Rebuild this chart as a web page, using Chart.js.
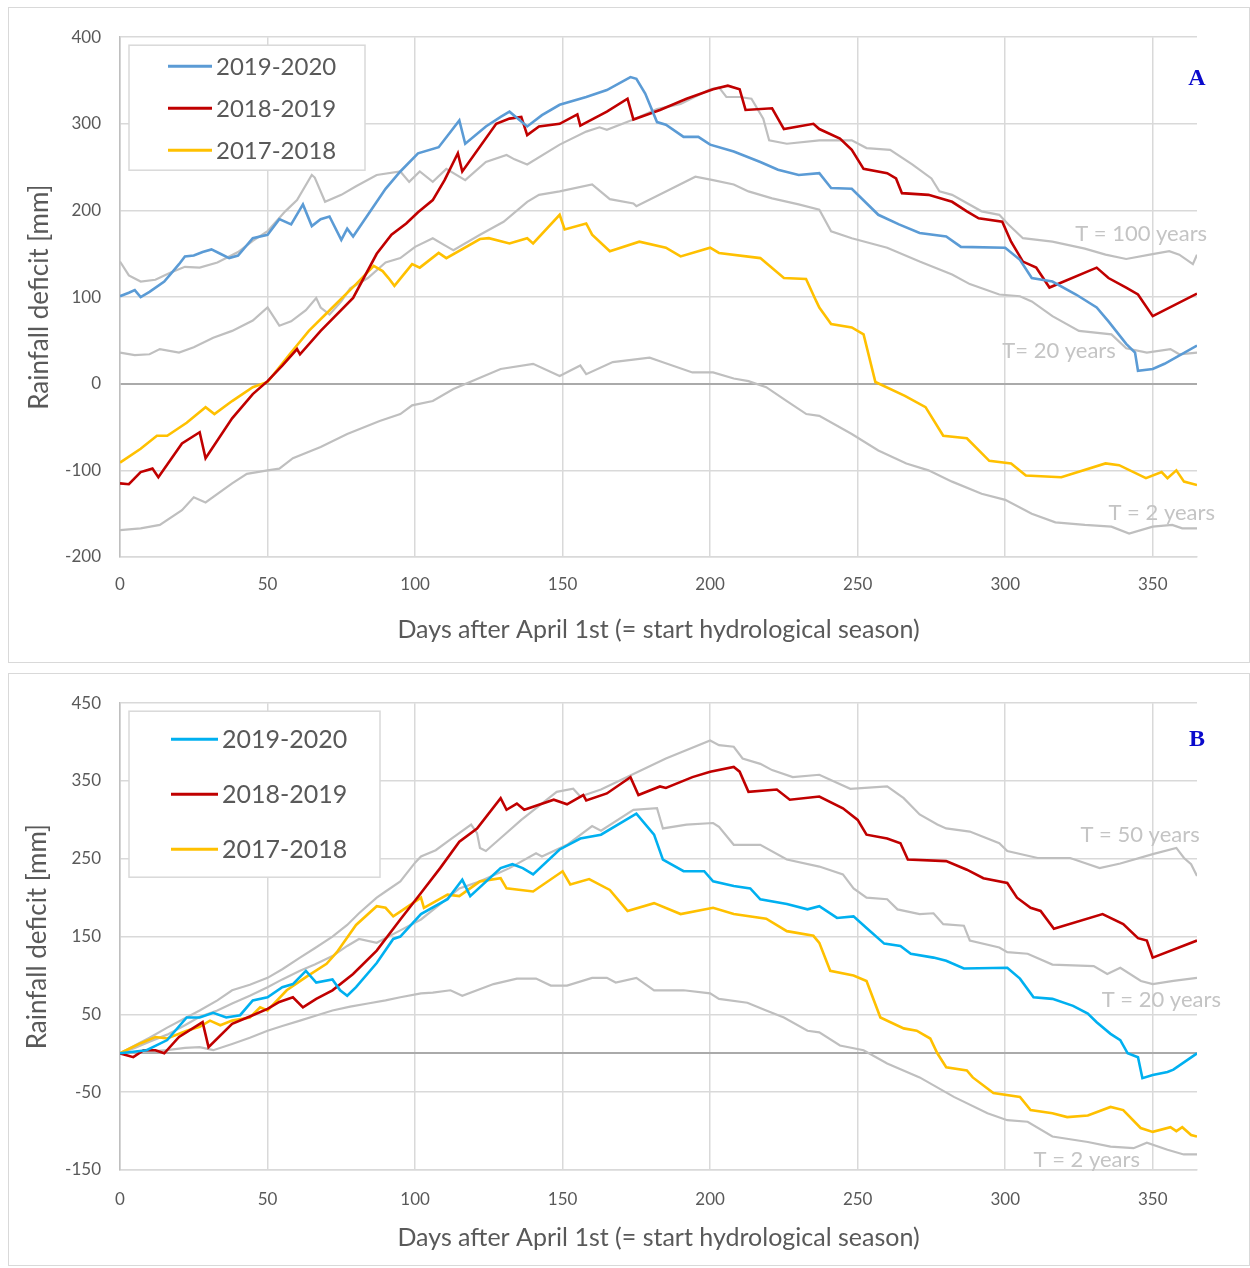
<!DOCTYPE html>
<html>
<head>
<meta charset="utf-8">
<script src="https://cdn.jsdelivr.net/npm/chart.js@4.4.1/dist/chart.umd.min.js"></script>
<style>
  html, body { margin: 0; padding: 0; background: #fff; }
  .panel { position: absolute; left: 8px; width: 1240px; border: 1px solid #d9d9d9; background: #fff; }
  #panelA { top: 7px; height: 654px; }
  #panelB { top: 673px; height: 591px; }
  canvas { display: block; }
</style>
</head>
<body>
<div class="panel" id="panelA"><canvas id="chartA"></canvas></div>
<div class="panel" id="panelB"><canvas id="chartB"></canvas></div>
<script>
// x ticks (days after April 1st) and y ticks for each panel
const dayTicks = [0, 50, 100, 150, 200, 250, 300, 350];
const aYTicks = [-200, -100, 0, 100, 200, 300, 400];
const bYTicks = [-150, -50, 0, 50, 150, 250, 350, 450];
const seasons = ['2019-2020', '2018-2019', '2017-2018'];

// Panel A: [day, rainfall deficit in mm]
const A_2019_2020 = [[0,101],[3,105],[5,108],[7,100],[10,106],[15,118],[20,138],[22,147],[25,148],[28,152],[31,155],[34,150],[37,145],[40,148],[45,168],[50,172],[54,190],[58,184],[62,207],[65,182],[68,190],[71,193],[75,166],[77,179],[79,170],[85,200],[90,225],[95,245],[101,266],[108,273],[115,304],[117,277],[124,297],[129,308],[132,314],[138,297],[143,310],[149,322],[158,331],[165,339],[173,354],[175,352],[178,335],[182,302],[185,299],[191,285],[196,285],[200,276],[208,268],[217,256],[223,247],[230,241],[237,243],[241,226],[248,225],[257,195],[264,184],[271,174],[280,170],[285,158],[300,157],[305,143],[309,122],[316,118],[324,103],[331,88],[335,72],[341,46],[344,36],[345,15],[350,17],[354,23],[365,44]];
const A_2018_2019 = [[0,-115],[3,-116],[7,-102],[11,-98],[13,-108],[21,-69],[27,-56],[29,-86],[38,-40],[45,-12],[50,3],[55,21],[60,40],[61,34],[68,61],[79,99],[87,150],[92,172],[97,185],[101,198],[106,212],[110,235],[114.5,266],[116,245],[127.5,300],[132,306],[136,308],[138,287],[142,297],[149,300],[155,311],[156,298],[165,314],[172,329],[174,305],[183,316],[192,329],[201,340],[206,344],[210,340],[212,316],[221,318],[225,294],[235,300],[237,294],[244,283],[248,270],[252,248],[260,243],[263,237],[265,220],[274,218],[282,210],[287,199],[291,191],[299,187],[302,164],[306,141],[310.5,134],[315,111],[331,134],[335,122],[341,111],[345,103],[350,78],[365,104]];
const A_2017_2018 = [[0,-91],[7,-75],[12.5,-60],[16,-60],[22.6,-45],[29,-27],[32,-35],[38,-20],[45,-4],[50,2],[57.5,34],[64,61],[72,88],[80,115],[86,136],[89,130],[91,122],[93,113],[99,138],[101.6,134],[108,151],[110.6,145],[122,167],[125,168],[132,162],[138,168],[140,162],[149,195],[150.7,178],[158,185],[160,172],[166,153],[176,164],[185,157],[190,147],[200,157],[203,151],[217,145],[225,122],[232.5,121],[236,95],[237,88],[241,69],[248,65],[252,57],[256,2],[266,-14],[273,-27],[279,-60],[287,-63],[294.6,-89],[302,-92],[307,-106],[319,-108],[334,-92],[338.6,-94],[347.7,-109],[353,-102],[355,-109],[358,-100],[360.6,-113],[365,-117]];
const A_T100 = [[0,141],[3,125],[7,118],[12,120],[17,128],[22,135],[27,134],[33,140],[40,152],[45,165],[50,176],[56,199],[60,212],[65,241],[66,238],[69.5,210],[75,218],[80,228],[87,241],[95,245],[98,233],[101.6,245],[106,233],[110.6,248],[117,235],[124,256],[131,264],[133.7,259],[138,253],[149,276],[158,291],[162.5,296],[165,293],[174,305],[182,317],[190,323],[200,340],[203,342],[205.5,331],[210,331],[214,329],[218,306],[220,281],[226,277],[237,281],[248,281],[253,272],[261,270],[268.6,253],[275,237],[277.7,222],[282,218],[292,199],[298,195],[301,184],[306,168],[316,164],[327,156],[334,149],[341,144],[349,149],[355.6,153],[359,149],[363.6,138],[365,149]];
const A_T20 = [[0,36],[5,33],[10,34],[13.5,40],[20,36],[25,42],[31.6,53],[38,61],[45,73],[50,88],[54,67],[58,72],[63,85],[66.5,99],[68,88],[71,80],[75,95],[78,110],[84,122],[90,140],[95,145],[100,158],[106,168],[112,156],[113,154],[122,172],[130,187],[138,210],[142,218],[149,222],[160,230],[166,213],[174,208],[175,205],[185,222],[195,239],[201,235],[208,230],[213,222],[221,214],[230,207],[237,201],[241,176],[248,168],[260,157],[271,141],[282,126],[288,115],[298,103],[305,101],[309,95],[316,78],[325,61],[336,57],[341,41],[348,36],[356,40],[359,34],[365,36]];
const A_T2 = [[0,-169],[7,-167],[13.5,-163],[21,-146],[25,-131],[29,-137],[38,-115],[43,-104],[50,-100],[54,-98],[58.6,-86],[68,-73],[77,-58],[88,-43],[95,-35],[99,-25],[106,-20],[113,-6],[122,7],[129,17],[140,23],[149,9],[156,21],[158,11],[167,25],[179.5,30],[183,26],[194,13],[201,13],[208,6],[213,3],[219,-4],[226,-20],[232.6,-35],[237,-37],[248,-58],[257,-77],[266.5,-92],[274,-100],[282,-113],[292,-127],[300,-134],[309,-150],[317,-160],[327,-163],[336,-165],[342,-173],[350,-165],[356.6,-163],[360,-167],[365,-167]];

// Panel B: [day, rainfall deficit in mm]
const B_2019_2020 = [[0,0],[9,4],[16,17],[22.6,46],[27,46],[31.6,52],[36,46],[40.7,49],[45,68],[50,72],[55,85],[58.6,89],[63,106],[66.5,91],[72,95],[74.6,81],[77,74],[80,85],[87,116],[92.6,147],[95,150],[102,179],[111,198],[116,223],[118.7,202],[129,238],[133,243],[136.5,238],[140,230],[149,262],[156,276],[163,281],[175,308],[181,281],[184,249],[191,234],[198,234],[201,221],[208,215],[213.6,212],[217,198],[226,192],[233,185],[237,189],[243,174],[248.6,176],[253,161],[259,141],[264.5,138],[268,128],[275.7,123],[280,119],[286,109],[300.7,110],[305,96],[309.6,72],[316,70],[323,61],[328,51],[331,40],[335.7,25],[339,17],[341.5,0],[345,-5],[346.5,-32],[350,-28],[355,-24],[357,-21],[365,0]];
const B_2018_2019 = [[0,0],[4.5,-5],[8,4],[12,4],[15,0],[20,21],[28,40],[30,8],[38,38],[45,49],[50,57],[54,66],[58.6,72],[62,59],[66.5,70],[72,81],[79,102],[87,132],[95,172],[102,206],[108.5,238],[115,272],[121,289],[129,328],[131,313],[134.5,321],[137,313],[140,317],[147,326],[151.5,320],[157,332],[158,325],[165,334],[173,355],[175.7,332],[183,343],[185,341],[194,355],[200,362],[208,368],[210,362],[213,336],[222.6,339],[227,326],[237,330],[245,315],[250,300],[253,281],[260,276],[264.5,270],[267,249],[280,247],[287,236],[292.6,225],[300.7,219],[304,200],[308.6,187],[312,183],[316.5,160],[333,179],[340,166],[345,148],[348,145],[350,123],[365,145]];
const B_2017_2018 = [[0,0],[7,13],[12,21],[16,19],[22.6,29],[27,34],[30.5,42],[34,36],[38,42],[44,46],[47.5,59],[50,55],[56.5,81],[63,98],[70,115],[73.5,130],[80,165],[87,189],[90,187],[92.6,176],[95,182],[102,200],[103,187],[111,204],[115,202],[122,221],[129,225],[131,212],[140,208],[150,234],[152.6,217],[159,224],[166,210],[172,183],[181,193],[190,179],[201,187],[208,179],[219,173],[226,157],[235,151],[237,142],[240.7,106],[248.6,100],[253,93],[257.7,46],[265.6,32],[270,29],[274.6,19],[277,0],[280,-18],[287,-22],[289,-31],[296,-51],[305,-56],[308.6,-73],[316,-77],[321,-82],[328,-80],[335.7,-69],[340,-73],[345.9,-96],[350,-101],[356,-95],[358,-100],[360,-95],[363,-105],[365,-107]];
const B_T50 = [[0,0],[5,10],[10,20],[16,33],[22,45],[27,55],[33,68],[38,81],[44,88],[50,97],[55,108],[61,123],[66,135],[72,150],[77,165],[81,180],[87,200],[90,208],[95,221],[100,245],[102,253],[107,261],[112,275],[119,294],[121,283],[122,264],[124,260],[130,280],[136,300],[142,318],[148,336],[153.6,340],[156,330],[163,339],[174,359],[185,379],[200,402],[203,396],[208,394],[211,379],[217,372],[221,364],[228,355],[237,358],[247.5,340],[260,343],[265.6,328],[271,307],[277,294],[280,289],[288,285],[298,270],[300.7,260],[311,251],[322,251],[332,238],[339,244],[350,256],[358,264],[360.6,251],[363,243],[365,228]];
const B_T20 = [[0,0],[5,7],[10,15],[16,24],[22,36],[27,47],[33,55],[38,64],[44,74],[50,85],[55,95],[61,106],[66,114],[72,125],[77,138],[81,147],[87,142],[95,158],[102,172],[108,190],[115,212],[122,221],[132,238],[141,257],[143,253],[151.5,268],[160,292],[163,286],[174,313],[182,315],[184,289],[192,294],[201,296],[203,291],[208,268],[217,268],[226,249],[237,240],[245,230],[248.6,212],[253,200],[260,198],[263.5,185],[271,179],[275.7,180],[279,166],[286,164],[288,145],[298,136],[300.7,130],[307.6,128],[316,114],[330,112],[334.6,102],[339,110],[346,93],[350,89],[357,93],[365,97]];
const B_T2 = [[0,0],[8,2],[16,4],[22,7],[27,8],[31.6,4],[38,12],[44,20],[50,29],[55,35],[61,42],[66,48],[72,55],[78,60],[84,64],[90,68],[95,72],[102,77],[106,78],[112,81],[116,74],[126.6,89],[134.5,96],[141,96],[146,87],[151.5,87],[160,97],[165,97],[168,91],[175,97],[181,81],[191,81],[200,77],[203,70],[212.6,65],[219,55],[225,46],[233,29],[237,27],[244,10],[252,4],[260,-13],[271,-31],[282.6,-56],[294,-77],[300.7,-86],[307.6,-88],[316,-107],[328,-114],[335.7,-120],[343.5,-122],[348,-115],[355,-124],[360.5,-130],[365,-130]];

const FONT = 'Lato';
const TXT = '#595959';
const GRID = '#d9d9d9';
const GRAY = '#bfbfbf';
const RED = '#c00000';
const YELLOW = '#ffc000';

const toXY = pts => pts.map(p => ({ x: p[0], y: p[1] }));

function seasonSet(label, pts, color) {
  return { label, data: toXY(pts), borderColor: color, borderWidth: 2.6, pointRadius: 0, tension: 0, inLegend: true };
}
function returnSet(label, pts) {
  return { label, data: toXY(pts), borderColor: GRAY, borderWidth: 2.2, pointRadius: 0, tension: 0, inLegend: false };
}

// legend drawn as a framed box inside the plot area
const boxLegend = {
  id: 'boxLegend',
  afterDatasetsDraw(chart, args, o) {
    const { ctx, chartArea } = chart;
    const x0 = chartArea.left + o.x, y0 = chartArea.top + o.y;
    ctx.save();
    ctx.fillStyle = '#fff';
    ctx.fillRect(x0, y0, o.w, o.h);
    ctx.strokeStyle = GRID;
    ctx.lineWidth = 1.5;
    ctx.strokeRect(x0, y0, o.w, o.h);
    ctx.font = o.size + 'px ' + FONT;
    ctx.textBaseline = 'middle';
    ctx.textAlign = 'left';
    chart.data.datasets.filter(d => d.inLegend).forEach((d, i) => {
      const y = y0 + o.rows[i];
      ctx.strokeStyle = d.borderColor;
      ctx.lineWidth = 3;
      ctx.beginPath();
      ctx.moveTo(x0 + o.line[0], y);
      ctx.lineTo(x0 + o.line[1], y);
      ctx.stroke();
      ctx.fillStyle = TXT;
      ctx.fillText(d.label, x0 + o.text, y + 1);
    });
    ctx.restore();
  }
};

// return period captions and the panel letter, placed in data units
const curveLabels = {
  id: 'curveLabels',
  afterDatasetsDraw(chart, args, o) {
    const { ctx, scales } = chart;
    ctx.save();
    ctx.textBaseline = 'middle';
    o.items.forEach(it => {
      ctx.font = it.font;
      ctx.fillStyle = it.color;
      ctx.textAlign = it.align || 'left';
      ctx.fillText(it.text, scales.x.getPixelForValue(it.day), scales.y.getPixelForValue(it.val));
    });
    ctx.restore();
  }
};

function makeChart(id, p) {
  return new Chart(document.getElementById(id), {
    type: 'line',
    data: { datasets: p.datasets },
    plugins: [boxLegend, curveLabels],
    options: {
      responsive: true,
      maintainAspectRatio: false,
      animation: false,
      layout: { padding: p.padding },
      plugins: {
        legend: { display: false },
        tooltip: { enabled: false },
        boxLegend: p.legend,
        curveLabels: { items: p.labels }
      },
      scales: {
        x: {
          type: 'linear',
          min: 0, max: 365,
          afterBuildTicks: s => { s.ticks = dayTicks.map(v => ({ value: v })); },
          afterFit: s => { s.height = p.xHeight; },
          ticks: { color: TXT, font: { family: FONT, size: 17 }, padding: p.xTickPad, maxRotation: 0 },
          grid: { color: GRID, lineWidth: 1.5, drawTicks: false },
          border: { color: GRID, width: 1.5 },
          title: { display: true, text: 'Days after April 1st (= start hydrological season)', color: TXT, font: { family: FONT, size: 25 } }
        },
        y: {
          min: p.yMin, max: p.yMax,
          afterBuildTicks: s => { s.ticks = p.yTicks.map(v => ({ value: v })); },
          afterFit: s => { s.width = p.yWidth; },
          ticks: { color: TXT, font: { family: FONT, size: 17 }, padding: 19, callback: v => (p.hideZero && v === 0) ? '' : v },
          grid: { color: c => (c.tick && c.tick.value === 0) ? '#aaaaaa' : GRID, lineWidth: c => (c.tick && c.tick.value === 0) ? 2 : 1.5, drawTicks: false },
          border: { color: GRAY, width: 1.5 },
          title: { display: true, text: 'Rainfall deficit [mm]', color: TXT, font: { family: FONT, size: 26 } }
        }
      }
    }
  });
}

const capFont = '22px ' + FONT;
const capColor = '#c4c4c4';
const letterFont = 'bold 24px "Liberation Serif"';
const letterColor = '#0a0acc';

makeChart('chartA', {
  datasets: [
    seasonSet(seasons[0], A_2019_2020, '#5b9bd5'),
    seasonSet(seasons[1], A_2018_2019, RED),
    seasonSet(seasons[2], A_2017_2018, YELLOW),
    returnSet('T = 100 years', A_T100),
    returnSet('T = 20 years', A_T20),
    returnSet('T = 2 years', A_T2)
  ],
  yMin: -200, yMax: 400, yTicks: aYTicks, hideZero: false,
  padding: { left: 11, right: 52, top: 27, bottom: 13 },
  yWidth: 100, xHeight: 92, xTickPad: 17,
  legend: { x: 9, y: 8, w: 236, h: 125, rows: [21, 63, 105], line: [39, 83], text: 87, size: 24 },
  labels: [
    { text: 'T = 100 years', day: 323.7, val: 173, font: capFont, color: capColor },
    { text: 'T= 20 years', day: 299, val: 38, font: capFont, color: capColor },
    { text: 'T = 2 years', day: 335, val: -149, font: capFont, color: capColor },
    { text: 'A', day: 365, val: 352, font: letterFont, color: letterColor, align: 'center' }
  ]
});

makeChart('chartB', {
  datasets: [
    seasonSet(seasons[0], B_2019_2020, '#00b0f0'),
    seasonSet(seasons[1], B_2018_2019, RED),
    seasonSet(seasons[2], B_2017_2018, YELLOW),
    returnSet('T = 50 years', B_T50),
    returnSet('T = 20 years', B_T20),
    returnSet('T = 2 years', B_T2)
  ],
  yMin: -150, yMax: 450, yTicks: bYTicks, hideZero: true,
  padding: { left: 9, right: 52, top: 27, bottom: 8 },
  yWidth: 102, xHeight: 87, xTickPad: 19,
  legend: { x: 9, y: 8, w: 251, h: 166, rows: [28, 83, 138], line: [42, 89], text: 93, size: 25 },
  labels: [
    { text: 'T = 50 years', day: 325.5, val: 281, font: capFont, color: capColor },
    { text: 'T = 20 years', day: 332.7, val: 69, font: capFont, color: capColor },
    { text: 'T = 2 years', day: 309.6, val: -137, font: capFont, color: capColor },
    { text: 'B', day: 365, val: 403, font: letterFont, color: letterColor, align: 'center' }
  ]
});
</script>
</body>
</html>
